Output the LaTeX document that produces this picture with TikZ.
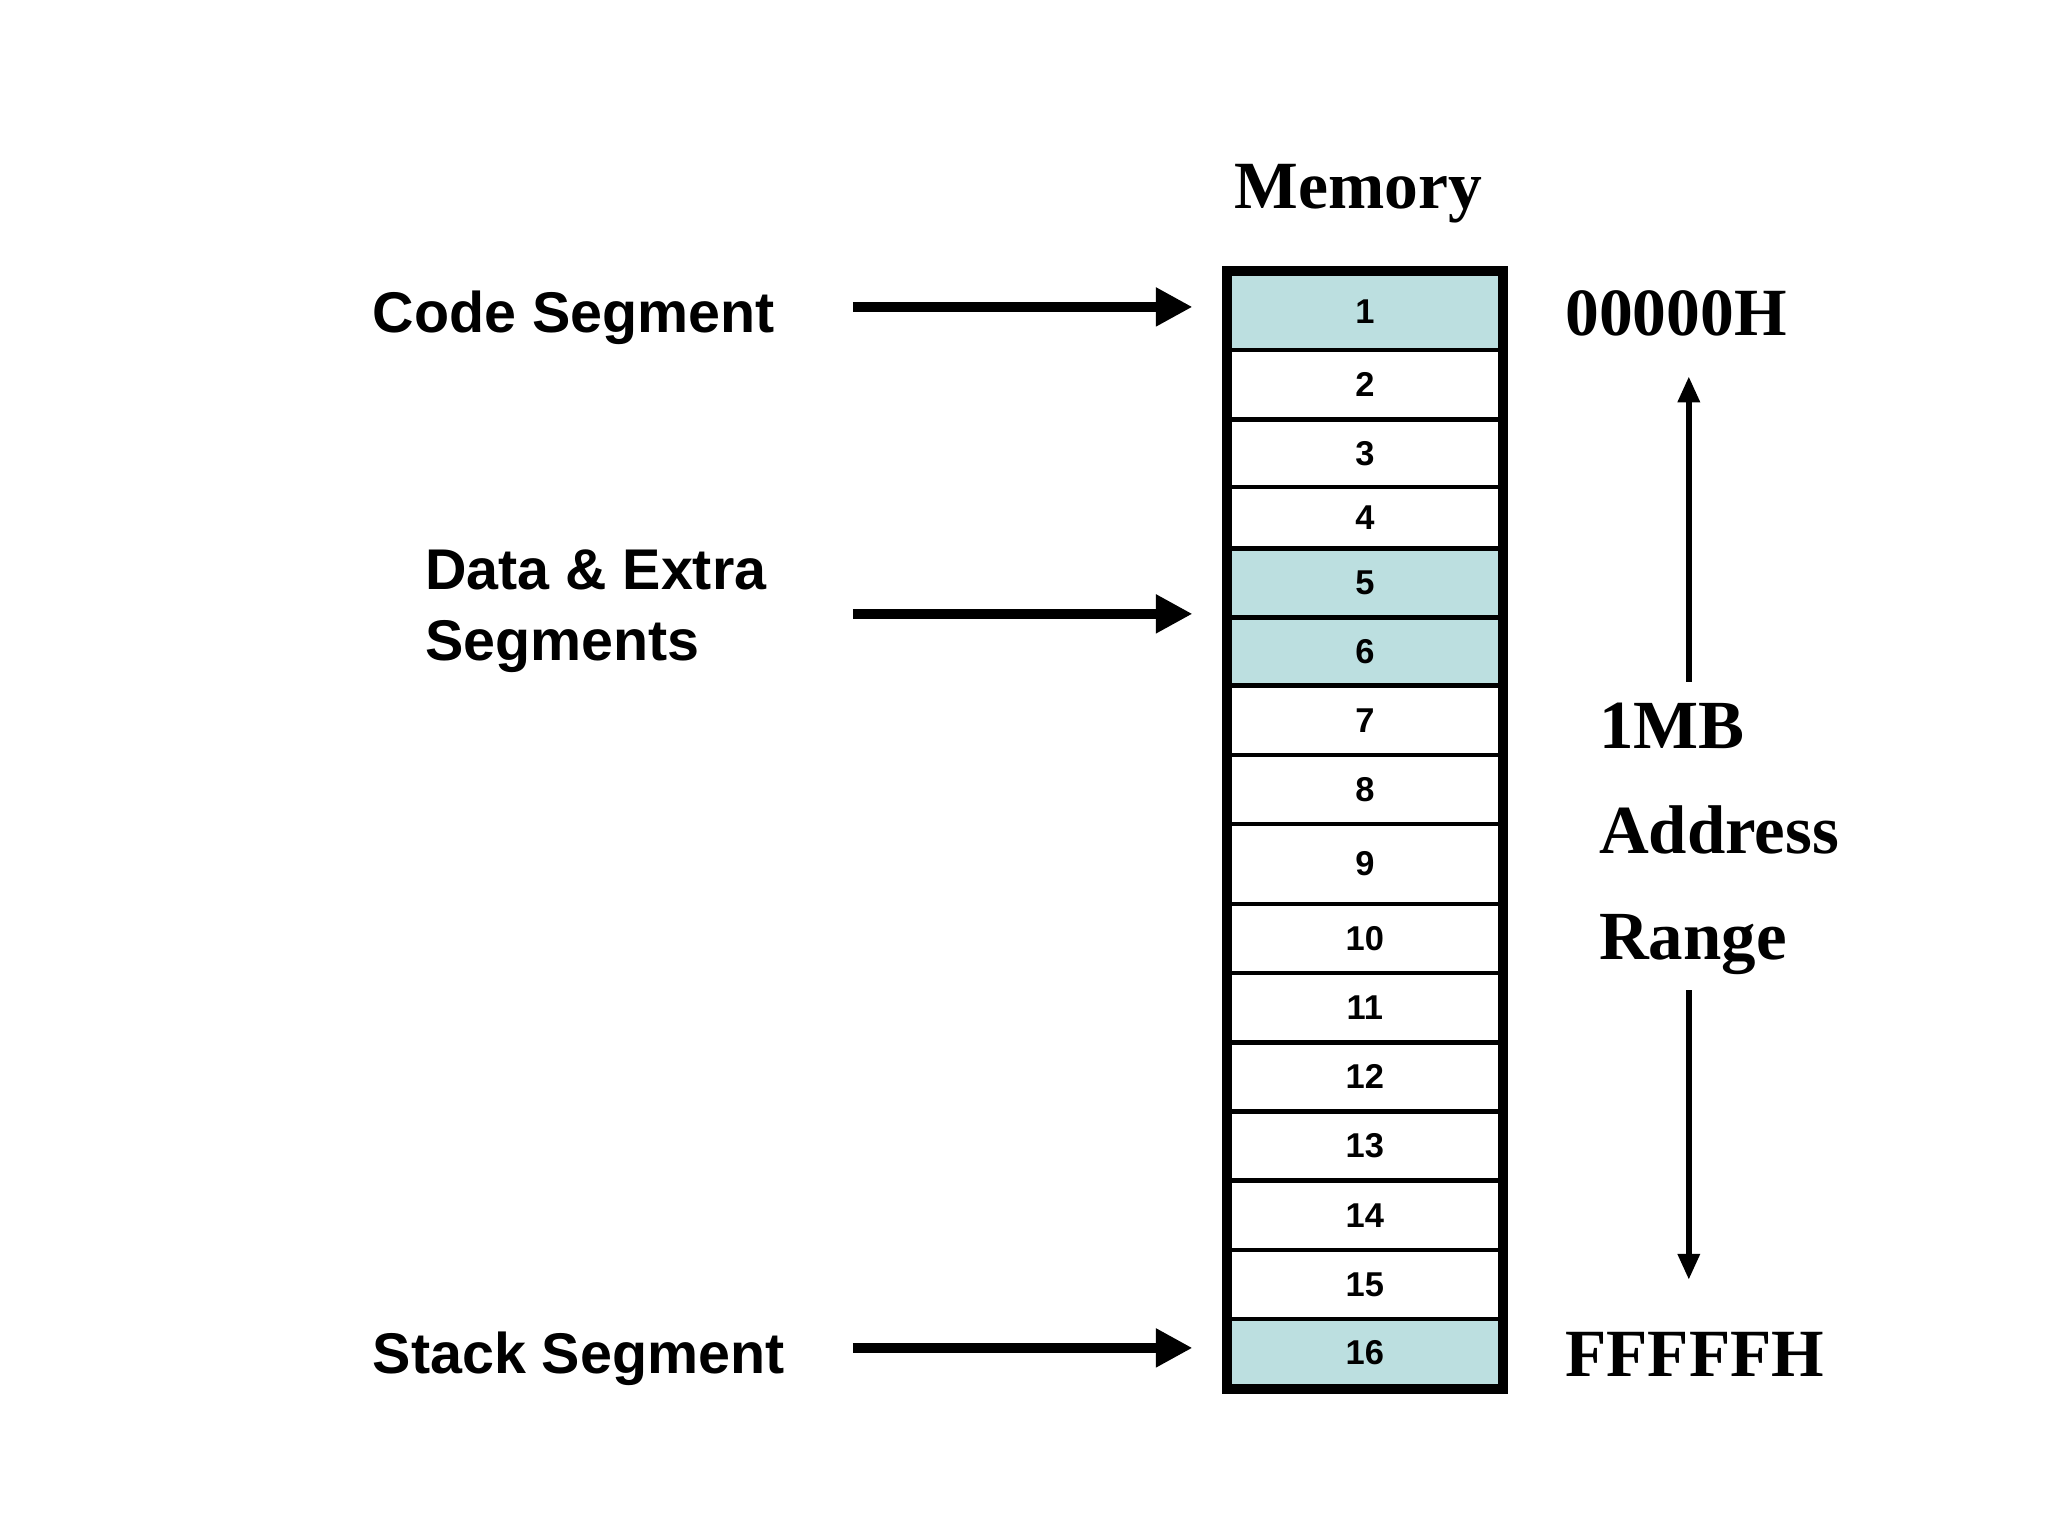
\documentclass[tikz,border=0pt]{standalone}
\usepackage{fontspec}
\setmainfont{Liberation Serif}
\setsansfont{Liberation Sans}
\usetikzlibrary{arrows.meta}
\definecolor{cellblue}{HTML}{BCDFE0}
\begin{document}
\begin{tikzpicture}[x=0.01cm,y=-0.01cm,
  cell/.style={draw,line width=1pt,minimum width=2.08cm,inner sep=0pt,font=\sffamily\bfseries\fontsize{7.5}{9}\selectfont},
  seg/.style={font=\sffamily\bfseries\fontsize{12.5}{15.5}\selectfont,anchor=west,align=left},
  big/.style={font=\bfseries\fontsize{14.7}{18}\selectfont,anchor=west,align=left},
  fat/.style={line width=2.3pt,-{Triangle[length=0.28cm,width=0.28cm]}},
  thin/.style={line width=1.4pt,-{Triangle[length=0.2cm,width=0.16cm]}}]
\useasboundingbox (0,0) rectangle (1568,1176);
\def\rows{209/268/1,268/321/2,321/373/3,373/420/4,420/473/5,473/525/6,525/578/7,578/631/8,631/692/9,692/745/10,745/798/11,798/851/12,851/904/13,904/957/14,957/1010/15,1010/1062/16}
\foreach \a/\b/\n in \rows {
  \pgfmathsetmacro{\h}{(\b-\a)*0.01}
  \pgfmathsetmacro{\c}{(\a+\b)/2}
  \ifnum\n=1 \def\fc{cellblue}\else\ifnum\n=5 \def\fc{cellblue}\else\ifnum\n=6 \def\fc{cellblue}\else\ifnum\n=16 \def\fc{cellblue}\else\def\fc{white}\fi\fi\fi\fi
  \node[cell,fill=\fc,minimum height=\h cm] (r\n) at (1045,\c) {\n};
}
\draw[line width=2.2pt] (r1.north west) rectangle (r16.south east);
\node[font=\bfseries\fontsize{14.7}{18}\selectfont] (mem) at (1040,148) {Memory};
\node[seg] (cs) at (273,243) {Code Segment};
\node[seg] (ds) at (313,468) {Data \& Extra\\Segments};
\node[seg] (ss) at (273,1040) {Stack Segment};
\coordinate (t1) at (653,235); \coordinate (h1) at (913,235);
\coordinate (t2) at (653,470); \coordinate (h2) at (913,470);
\coordinate (t3) at (653,1032); \coordinate (h3) at (913,1032);
\draw[fat] (t1) -- (h1);
\draw[fat] (t2) -- (h2);
\draw[fat] (t3) -- (h3);
\node[big] (lo) at (1186,240) {00000H};
\node[big] (hi) at (1186,1037) {FFFFFH};
\node[big,align=left,font=\bfseries\fontsize{15}{23}\selectfont] (rng) at (1212,642) {1MB\\Address\\Range};
\coordinate (u1) at (1293,522); \coordinate (u2) at (1293,288);
\coordinate (d1) at (1293,758); \coordinate (d2) at (1293,980);
\draw[thin] (u1) -- (u2);
\draw[thin] (d1) -- (d2);
\end{tikzpicture}
\end{document}
